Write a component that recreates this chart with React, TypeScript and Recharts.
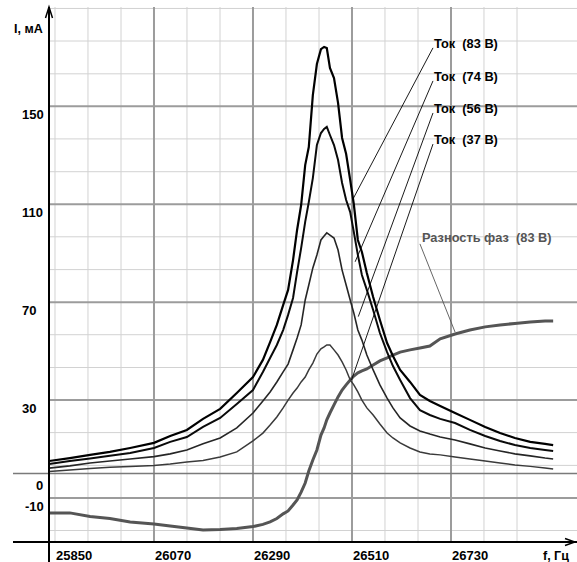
import { LineChart, Line, XAxis, YAxis, ReferenceLine, ReferenceDot } from "recharts";

const FONT = "'Liberation Sans', Arial, sans-serif";

// frequency samples, Hz
const freqs = [
  25837, 25883, 25928, 25972, 26017, 26070, 26106, 26143, 26179, 26217, 26254, 26290, 26312, 26328,
  26343, 26357, 26368, 26379, 26388, 26397, 26406, 26414, 26423, 26432, 26441, 26448, 26454, 26461,
  26470, 26479, 26488, 26497, 26506, 26514, 26523, 26532, 26543, 26557, 26572, 26588, 26601, 26617,
  26639, 26661, 26683, 26706, 26739, 26772, 26806, 26839, 26872, 26906, 26939, 26957,
];

// current, mA
const current83 = [
  5.1, 6.3, 7.6, 8.8, 10.4, 12.5, 15.3, 17.8, 22.3, 26.4, 32.9, 39.4, 46.4, 53.7, 60.7, 68.8, 75.0, 87.2,
  99.5, 109.7, 126.0, 133.4, 154.6, 167.3, 173.4, 174.3, 173.8, 165.7, 161.6, 151.4, 137.1, 130.5, 119.9,
  110.1, 95.4, 90.5, 81.9, 72.1, 62.7, 53.3, 48.0, 42.3, 37.4, 32.1, 29.6, 27.6, 24.7, 21.9, 19.0, 16.5,
  14.5, 12.9, 12.1, 11.6,
];
const current74 = [
  3.9, 5.1, 6.1, 7.2, 8.4, 10.4, 12.9, 14.9, 19.0, 22.7, 28.4, 34.1, 41.5, 47.2, 52.5, 58.6, 64.8, 71.7,
  82.3, 92.1, 102.8, 110.9, 120.7, 134.2, 139.1, 140.8, 141.6, 138.3, 134.2, 128.1, 118.7, 111.7, 106.8,
  98.7, 89.3, 81.1, 75.0, 66.8, 57.4, 49.6, 43.9, 38.2, 30.8, 25.9, 23.9, 22.3, 20.6, 17.8, 15.3, 13.3,
  11.6, 10.4, 9.6, 9.2,
];
const current56 = [
  2.2, 3.1, 4.3, 5.1, 5.9, 6.9, 8.0, 9.6, 12.1, 14.5, 18.6, 24.7, 29.6, 33.3, 37.4, 41.5, 44.7, 50.5,
  55.4, 60.7, 70.9, 77.0, 84.0, 89.3, 95.4, 97.0, 98.3, 97.4, 96.2, 91.3, 83.1, 77.0, 70.9, 65.6, 58.6,
  54.5, 48.4, 42.3, 36.2, 30.8, 26.8, 22.7, 19.4, 17.4, 16.1, 14.9, 13.7, 12.1, 10.4, 9.2, 8.0, 7.2,
  6.3, 5.9,
];
const current37 = [
  0.8, 1.4, 2.0, 2.5, 2.9, 3.3, 3.9, 4.7, 5.3, 6.7, 8.8, 13.3, 16.5, 19.8, 23.1, 26.8, 30.0, 32.9, 34.9,
  37.4, 39.4, 42.3, 45.1, 48.8, 50.9, 51.7, 52.5, 52.5, 50.5, 48.4, 45.6, 42.3, 38.2, 36.2, 33.3, 30.0,
  26.8, 23.9, 20.2, 16.5, 14.5, 12.5, 10.4, 8.8, 8.0, 7.6, 6.7, 5.9, 5.1, 4.3, 3.5, 2.9, 2.2, 1.8,
];
// phase difference at 83 V, same scale
const phase83 = [
  -16.1, -16.1, -17.6, -18.4, -19.8, -20.6, -21.5, -22.3, -23.1, -22.9, -22.5, -21.7, -20.8, -19.8,
  -18.4, -16.5, -15.3, -12.9, -10.8, -7.6, -3.9, 1.0, 5.5, 9.6, 15.7, 18.6, 21.9, 24.7, 28.0, 31.3, 34.1,
  36.2, 38.2, 39.8, 41.1, 41.9, 42.7, 44.3, 46.0, 47.2, 48.4, 49.6, 50.5, 51.3, 52.1, 55.0, 57.0, 58.6,
  59.9, 60.7, 61.3, 61.9, 62.3, 62.3,
];

// axes and grid
const xDomain = [25836.7, 27010];
const yDomain = [-28, 190.6];
const xLabelTicks = [25850, 26070, 26290, 26510, 26730];
const xMajorLines = [26070, 26290, 26510, 26730];
const xMinorLines = [25850, 25923.3, 25996.7, 26143.3, 26216.7, 26363.3, 26436.7, 26583.3, 26656.7, 26803.3, 26876.7];
const yLabelTicks = [150, 110, 70, 30, 0, -10];
const yMajorLines = [150, 110, 70, 30, -10];
const yMinorLines = [190, 176.7, 163.3, 136.7, 123.3, 96.7, 83.3, 56.7, 43.3, 16.7, 3.3, -23.3];
const axisStubFreq = 25756.7;
const axisStubValue = -36.5;

// annotations: text, leader start, leader end
const noteText = ["Ток  (83 В)", "Ток  (74 В)", "Ток  (56 В)", "Ток  (37 В)", "Разность фаз  (83 В)"];
const noteFromFreq = [26690, 26690, 26690, 26690, 26661];
const noteFromValue = [173.9, 160.4, 147.3, 134.6, 93.8];
const noteToFreq = [26513, 26517, 26524, 26509, 26739];
const noteToValue = [112.4, 86.5, 64.1, 38.2, 57.8];

const FreqTick = ({ x, y, payload }: any) => (
  <text x={x + 1} y={y + 18} fontSize={13} fontWeight="bold" fontFamily={FONT} fill="#000">
    {payload.value}
  </text>
);

const CurrentTick = ({ x, y, payload }: any) => {
  const v = payload.value;
  let dx = -27;
  let dy = 13;
  if (v === 0) {
    dx = -13;
    dy = 17;
  } else if (v === -10) {
    dx = -24;
  }
  return (
    <text x={x + dx} y={y + dy} fontSize={13} fontWeight="bold" fontFamily={FONT} fill="#000">
      {v}
    </text>
  );
};

const YArrow = ({ cx, cy }: any) => (
  <g>
    <path d={`M${cx - 3.5},${cy + 11} L${cx},${cy} L${cx + 3.5},${cy + 11}`} stroke="#000" strokeWidth={1.5} fill="none" />
    <text x={cx - 35} y={cy + 26} fontSize={12.5} fontWeight="bold" fontFamily={FONT} fill="#000">
      I, мА
    </text>
  </g>
);

const XArrow = ({ cx, cy }: any) => (
  <g>
    <path d={`M${cx - 12},${cy - 3.5} L${cx - 2},${cy} L${cx - 12},${cy + 3.5}`} stroke="#000" strokeWidth={1.5} fill="none" />
    <text x={cx - 34} y={cy + 18} fontSize={12.5} fontWeight="bold" fontFamily={FONT} fill="#000">
      f, Гц
    </text>
  </g>
);

export default function App() {
  const data = freqs.map((f, i) => ({
    f,
    i83: current83[i],
    i74: current74[i],
    i56: current56[i],
    i37: current37[i],
    ph: phase83[i],
  }));

  return (
    <div style={{ position: "absolute", left: 0, top: 0, width: 577, height: 562, background: "#fff" }}>
      <LineChart width={577} height={562} data={data} margin={{ top: 7, right: 0, bottom: 0, left: 0 }}>
        {/* grid */}
        {xMinorLines.map((v) => (
          <ReferenceLine key={"xm" + v} x={v} stroke="#d2d2d2" strokeWidth={1} />
        ))}
        {yMinorLines.map((v) => (
          <ReferenceLine key={"ym" + v} y={v} stroke="#d2d2d2" strokeWidth={1} />
        ))}
        {xMajorLines.map((v) => (
          <ReferenceLine key={"xM" + v} x={v} stroke="#9c9c9c" strokeWidth={2} />
        ))}
        {yMajorLines.map((v) => (
          <ReferenceLine key={"yM" + v} y={v} stroke="#9c9c9c" strokeWidth={2} />
        ))}
        <ReferenceLine
          segment={[{ x: axisStubFreq, y: 0 }, { x: xDomain[1], y: 0 }]}
          stroke="#7a7a7a"
          strokeWidth={1.5}
          ifOverflow="visible"
        />

        <XAxis
          dataKey="f"
          type="number"
          domain={xDomain}
          allowDataOverflow
          ticks={xLabelTicks}
          interval={0}
          height={20}
          tickLine={false}
          tickSize={0}
          tickMargin={0}
          axisLine={{ stroke: "#000", strokeWidth: 2 }}
          tick={(p: any) => <FreqTick {...p} />}
        />
        <YAxis
          type="number"
          domain={yDomain}
          allowDataOverflow
          ticks={yLabelTicks}
          interval={0}
          width={49}
          tickLine={false}
          tickSize={0}
          tickMargin={0}
          axisLine={{ stroke: "#000", strokeWidth: 2 }}
          tick={(p: any) => <CurrentTick {...p} />}
        />

        {/* axis stubs past the origin */}
        <ReferenceLine
          segment={[{ x: axisStubFreq, y: yDomain[0] }, { x: xDomain[0], y: yDomain[0] }]}
          stroke="#000"
          strokeWidth={2}
          ifOverflow="visible"
        />
        <ReferenceLine
          segment={[{ x: xDomain[0], y: yDomain[0] }, { x: xDomain[0], y: axisStubValue }]}
          stroke="#000"
          strokeWidth={2}
          ifOverflow="visible"
        />

        <Line dataKey="ph" type="linear" stroke="#555" strokeWidth={3} dot={false} isAnimationActive={false} />
        <Line dataKey="i37" type="linear" stroke="#3a3a3a" strokeWidth={1.5} dot={false} isAnimationActive={false} />
        <Line dataKey="i56" type="linear" stroke="#262626" strokeWidth={1.6} dot={false} isAnimationActive={false} />
        <Line dataKey="i74" type="linear" stroke="#0a0a0a" strokeWidth={2} dot={false} isAnimationActive={false} />
        <Line dataKey="i83" type="linear" stroke="#000" strokeWidth={2.2} dot={false} isAnimationActive={false} />

        {/* leader lines and notes */}
        {noteText.map((t, i) => (
          <ReferenceLine
            key={"l" + i}
            segment={[
              { x: noteFromFreq[i], y: noteFromValue[i] },
              { x: noteToFreq[i], y: noteToValue[i] },
            ]}
            stroke={i === 4 ? "#555" : "#000"}
            strokeWidth={0.9}
            ifOverflow="visible"
          />
        ))}
        {noteText.map((t, i) => (
          <ReferenceDot
            key={"t" + i}
            x={noteFromFreq[i]}
            y={noteFromValue[i]}
            r={0}
            ifOverflow="visible"
            shape={(p: any) => (
              <text
                x={p.cx + (i === 4 ? 2 : 1)}
                y={p.cy - (i === 4 ? 2 : 0)}
                fontSize={12.8}
                fontWeight="bold"
                fontFamily={FONT}
                fill={i === 4 ? "#555" : "#000"}
                style={{ whiteSpace: "pre" }}
              >
                {t}
              </text>
            )}
          />
        ))}

        <ReferenceDot x={xDomain[0]} y={yDomain[1]} r={0} ifOverflow="visible" shape={(p: any) => <YArrow {...p} />} />
        <ReferenceDot x={xDomain[1]} y={yDomain[0]} r={0} ifOverflow="visible" shape={(p: any) => <XArrow {...p} />} />
      </LineChart>
    </div>
  );
}
